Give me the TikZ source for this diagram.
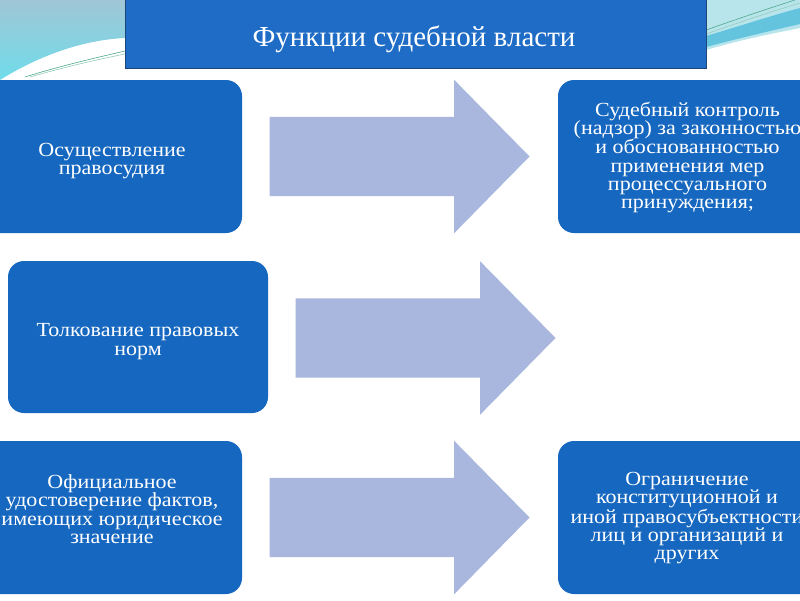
\documentclass[tikz,border=0pt]{standalone}
\usepackage{fontspec}
\setmainfont{Liberation Serif}[FakeStretch=1.1]
\newfontfamily\titlefont{Liberation Serif}
\usetikzlibrary{shapes.arrows}
\definecolor{boxblue}{RGB}{22,103,192}
\definecolor{titleblue}{RGB}{30,108,198}
\definecolor{titleedge}{RGB}{31,70,120}
\definecolor{arrowblue}{RGB}{169,183,222}
\definecolor{decotop}{RGB}{160,198,214}
\definecolor{decobot}{RGB}{112,220,234}
\definecolor{decolight}{RGB}{184,228,236}
\definecolor{decoband}{RGB}{100,196,222}
\definecolor{decoline}{RGB}{80,170,140}
\tikzset{
  x=1pt, y=-1pt,
  funcbox/.style={fill=boxblue, rounded corners=16pt},
  boxframe/.style={inner sep=0pt},
  bigarrow/.style={single arrow, fill=arrowblue, minimum height=260pt,
    inner xsep=0pt, inner ysep=39.5pt, single arrow head extend=37pt,
    single arrow tip angle=91, anchor=center},
  boxtext/.style={text=white, align=center, inner sep=0pt,
    font=\fontsize{20}{18.3}\selectfont}
}
\begin{document}
\begin{tikzpicture}
\useasboundingbox (0,0) rectangle (800,600);
\fill[white] (0,0) rectangle (800,600);
\begin{scope}
\clip (0,0) rectangle (800,600);
% decorations top-left
\shade[top color=decotop, bottom color=decobot] (0,0) -- (125,0) -- (125,38)
  .. controls (80,40) and (35,58) .. (0,80) -- cycle;
\draw[decoline, line width=0.6pt] (25,77) .. controls (60,66) and (95,58) .. (125,51);
\draw[decoline!60, line width=0.6pt] (30,77) .. controls (65,67) and (95,60) .. (125,54);
% decorations top-right
\fill[decolight] (706,0) -- (800,0) -- (800,28) .. controls (770,34) and (740,40) .. (706,50) -- cycle;
\fill[decoband] (706,36) .. controls (740,26) and (770,16) .. (800,8) -- (800,24)
  .. controls (770,31) and (740,38) .. (706,47) -- cycle;
\draw[decoline, line width=0.6pt] (706,30) .. controls (740,18) and (770,8) .. (795,0);
\draw[decoline!60, line width=0.6pt] (706,34) .. controls (740,22) and (770,12) .. (800,3);
% title
\node[fill=titleblue, draw=titleedge, line width=0.8pt, minimum width=581pt, minimum height=70pt,
  inner sep=0pt, anchor=north west] (title) at (125,-2) {};
\node[text=white, font=\titlefont\fontsize{29}{32}\selectfont, anchor=base, inner sep=0pt]
  (titletext) at (414,46) {Функции судебной власти};
% boxes
\fill[funcbox] (-20,80) rectangle (242,233);
\node[boxframe, minimum width=262pt, minimum height=153pt] (b1) at (111,156.5) {};
\node[boxtext] (t1) at (112,161) {Осуществление\\правосудия};

\fill[funcbox] (8,261) rectangle (268,413);
\node[boxframe, minimum width=260pt, minimum height=152pt] (b2) at (138,337) {};
\node[boxtext] (t2) at (138,341.5) {Толкование правовых\\норм};

\fill[funcbox] (-20,441) rectangle (242,594);
\node[boxframe, minimum width=262pt, minimum height=153pt] (b3) at (111,517.5) {};
\node[boxtext] (t3) at (112,509) {Официальное\\удостоверение фактов,\\имеющих юридическое\\значение};

\fill[funcbox] (558,80) rectangle (830,233);
\node[boxframe, minimum width=272pt, minimum height=153pt] (r1) at (694,156.5) {};
\node[boxtext] (tr1) at (687.5,157.5) {Судебный контроль\\(надзор) за законностью\\и обоснованностью\\применения мер\\процессуального\\принуждения;};

\fill[funcbox] (558,441) rectangle (830,594);
\node[boxframe, minimum width=272pt, minimum height=153pt] (r3) at (694,517.5) {};
\node[boxtext] (tr3) at (687,518) {Ограничение\\конституционной и\\иной правосубъектности\\лиц и организаций и\\других};

% arrows
\node[bigarrow] (a1) at (380,156.5) {};
\node[bigarrow] (a2) at (406,338) {};
\node[bigarrow] (a3) at (380,517.5) {};
\end{scope}
\end{tikzpicture}
\end{document}
